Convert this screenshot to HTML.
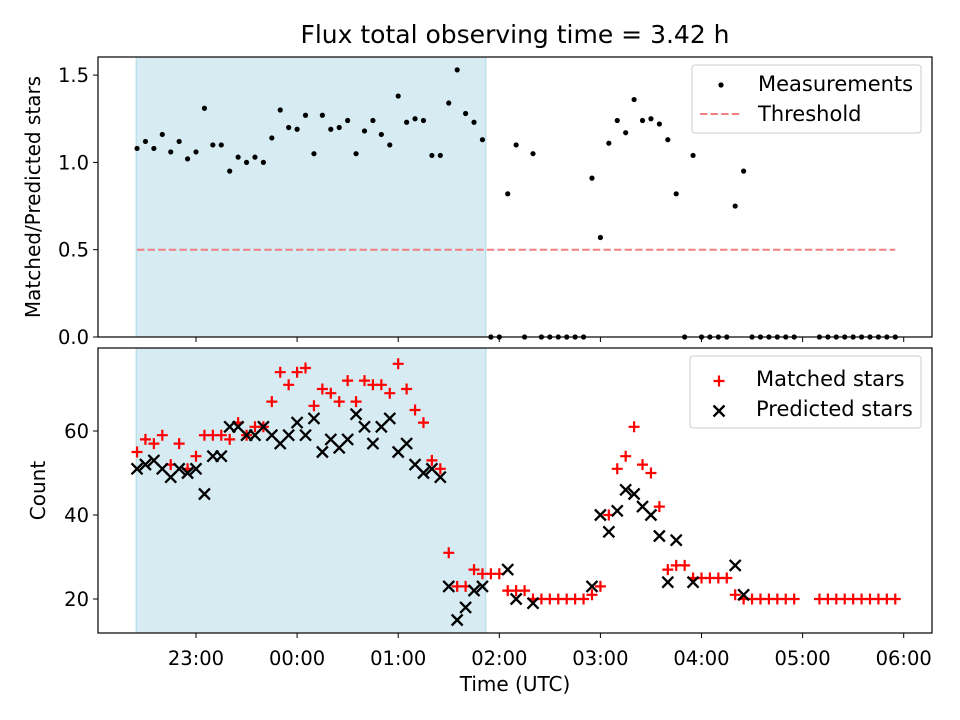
<!DOCTYPE html>
<html><head><meta charset="utf-8"><style>
html,body{margin:0;padding:0;background:#fff;}
svg{display:block;font-family:"DejaVu Sans","Liberation Sans",sans-serif;}
</style></head><body>
<svg id="chart" width="960" height="720" viewBox="0 0 960 720" xmlns="http://www.w3.org/2000/svg">
<text x="515" y="43" font-size="25" text-anchor="middle">Flux total observing time = 3.42 h</text>
<g id="top"></g><g id="bot"></g>
</svg>
<script>
// minutes since 22:00 UTC
const measTimes=[25,30,35,40,45,50,55,60,65,70,75,80,85,90,95,100,105,110,115,120,125,130,135,140,145,150,155,160,165,170,175,180,185,190,195,200,205,210,215,220,225,230,235,240,245,250,255,260,265,270,275,280,285,290,295,300,305,310,315,320,325,330,335,340,345,350,355,360,365,370,375,380,385,390,395,400,405,410,415,430,435,440,445,450,455,460,465,470,475];
const measVals=[1.08,1.12,1.08,1.16,1.06,1.12,1.02,1.06,1.31,1.10,1.10,0.95,1.03,1.00,1.03,1.00,1.14,1.30,1.20,1.19,1.27,1.05,1.27,1.19,1.20,1.24,1.05,1.18,1.24,1.16,1.10,1.38,1.23,1.25,1.24,1.04,1.04,1.34,1.53,1.28,1.23,1.13,
0,0,0.82,1.10,0,1.05,0,0,0,0,0,0,0.91,0.57,1.11,1.24,1.17,1.36,1.24,1.25,1.22,1.13,0.82,0,1.04,0,0,0,0,0.75,0.95,0,0,0,0,0,0,
0,0,0,0,0,0,0,0,0,0];
const matchedVals=[55,58,57,59,52,57,51,54,59,59,59,58,62,59,61,61,67,74,71,74,75,66,70,69,67,72,67,72,71,71,69,76,70,65,62,53,51,31,23,23,27,26,
26,26,22,22,22,20,20,20,20,20,20,20,21,23,40,51,54,61,52,50,42,27,28,28,25,25,25,25,25,21,20,20,20,20,20,20,20,
20,20,20,20,20,20,20,20,20,20];
const predTimes=[25,30,35,40,45,50,55,60,65,70,75,80,85,90,95,100,105,110,115,120,125,130,135,140,145,150,155,160,165,170,175,180,185,190,195,200,205,210,215,220,225,230,245,250,260,295,300,305,310,315,320,325,330,335,340,345,355,380,385];
const predVals=[51,52,53,51,49,51,50,51,45,54,54,61,61,59,59,61,59,57,59,62,59,63,55,58,56,58,64,61,57,61,63,55,57,52,50,51,49,23,15,18,22,23,27,20,19,23,40,36,41,46,45,42,40,35,24,34,24,28,21];
const threshold=0.5;
const shadeRange=[24.5,232];
const xTickMins=[60,120,180,240,300,360,420,480];
const xTickLabels=["23:00","00:00","01:00","02:00","03:00","04:00","05:00","06:00"];
const topTicks=[0,0.5,1.0,1.5];
const botTicks=[20,40,60];

const NS="http://www.w3.org/2000/svg";
const L=98,R=932;
const FS=21, TFS=19.5, LFS=20;
const X=m=>196+(m-60)*101.1/60;
const YT=v=>337-v*174.6;
const YB=v=>599-(v-20)*4.2;
function mk(p,tag,at){const e=document.createElementNS(NS,tag);for(const k in at)e.setAttribute(k,at[k]);p.appendChild(e);return e;}

function panel(g,top,bot,yf,ticks,fmt,ylabel,ylx){
  const sh=mk(g,'rect',{x:X(shadeRange[0]),y:top,width:X(shadeRange[1])-X(shadeRange[0]),height:bot-top,fill:'#add8e6','fill-opacity':0.5,stroke:'#add8e6'});
  
  
  xTickMins.forEach((m,i)=>{
    const t=mk(g,'line',{x1:X(m),x2:X(m),y1:bot,y2:bot+5,stroke:'#000','stroke-width':1});
    
    
  });
  ticks.forEach(v=>{
    mk(g,'line',{x1:L-5,x2:L,y1:yf(v),y2:yf(v),stroke:'#000','stroke-width':1});
    const tx=mk(g,'text',{x:L-9,y:yf(v)+7,'font-size':TFS,'text-anchor':'end'});
    tx.textContent=fmt(v);
    
    
  });
  const yl=mk(g,'text',{x:ylx,y:(top+bot)/2,'font-size':LFS,'text-anchor':'middle',transform:`rotate(-90 ${ylx} ${(top+bot)/2})`});
  yl.textContent=ylabel;
  
  
}
function frame(g,top,bot){
  const f=mk(g,'rect',{x:L,y:top,width:R-L,height:bot-top,fill:'none',stroke:'#000','stroke-width':1.2});
  
  
}

// top panel
const gt=document.getElementById('top');
panel(gt,57,337,YT,topTicks,v=>v.toFixed(1),'Matched/Predicted stars',40);
const th=mk(gt,'line',{x1:X(25),x2:X(475),y1:YT(threshold),y2:YT(threshold),stroke:'#f08080','stroke-width':2,'stroke-dasharray':'7.4,3.2'});


measTimes.forEach((m,i)=>{
  const c=mk(gt,'circle',{cx:X(m),cy:YT(measVals[i]),r:2.6,fill:'#000'});
  
  
});
frame(gt,57,337);

// bottom panel
const gb=document.getElementById('bot');
panel(gb,348,633,YB,botTicks,v=>String(v),'Count',45);
function plus(g,cx,cy){const p=mk(g,'path',{d:`M${cx-5.5},${cy}H${cx+5.5}M${cx},${cy-5.5}V${cy+5.5}`,stroke:'#f00','stroke-width':2.2,fill:'none'});return p;}
function cross(g,cx,cy){const p=mk(g,'path',{d:`M${cx-5.5},${cy-5.5}L${cx+5.5},${cy+5.5}M${cx-5.5},${cy+5.5}L${cx+5.5},${cy-5.5}`,stroke:'#000','stroke-width':2.3,fill:'none'});return p;}
measTimes.forEach((m,i)=>{
  const p=plus(gb,X(m),YB(matchedVals[i]));
  
  
});
predTimes.forEach((m,i)=>{
  const p=cross(gb,X(m),YB(predVals[i]));
  
  
});
frame(gb,348,633);
xTickMins.forEach((m,i)=>{
  const t=mk(gb,'text',{x:X(m),y:665,'font-size':TFS,'text-anchor':'middle'});
  t.textContent=xTickLabels[i];
  
  
});
const xl=mk(gb,'text',{x:515,y:691,'font-size':LFS,'text-anchor':'middle'});
xl.textContent='Time (UTC)';



// legends
const lg1=mk(gt,'g',{});


mk(lg1,'rect',{x:692,y:65,width:229,height:68,rx:3,fill:'#fff','fill-opacity':0.8,stroke:'#ccc'});
mk(lg1,'circle',{cx:721,cy:85,r:2.6,fill:'#000'});
const t1=mk(lg1,'text',{x:758,y:91,'font-size':FS});t1.textContent='Measurements';


mk(lg1,'line',{x1:700,x2:742,y1:114,y2:114,stroke:'#f08080','stroke-width':2,'stroke-dasharray':'7.4,3.2'});
const t2=mk(lg1,'text',{x:758,y:121,'font-size':FS});t2.textContent='Threshold';



const lg2=mk(gb,'g',{});


mk(lg2,'rect',{x:690,y:356,width:231,height:72,rx:3,fill:'#fff','fill-opacity':0.8,stroke:'#ccc'});
plus(lg2,719,381);
const t3=mk(lg2,'text',{x:756,y:386,'font-size':FS});t3.textContent='Matched stars';


cross(lg2,719,411);
const t4=mk(lg2,'text',{x:756,y:416,'font-size':FS});t4.textContent='Predicted stars';


</script>
</body></html>
